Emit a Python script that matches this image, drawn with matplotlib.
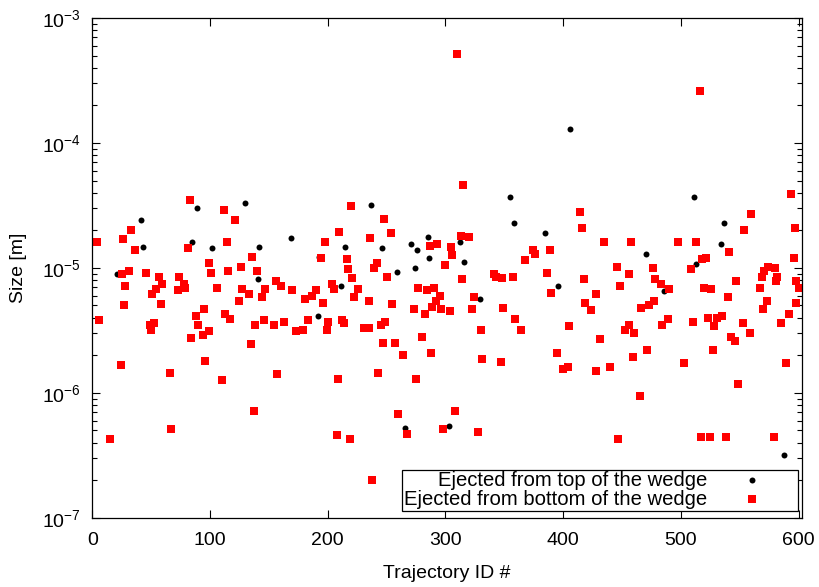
import matplotlib
matplotlib.use('Agg')
import matplotlib.pyplot as plt
from matplotlib.ticker import LogLocator, NullFormatter, MultipleLocator

plt.rcParams['font.family'] = ['Liberation Sans', 'DejaVu Sans']
plt.rcParams['mathtext.fontset'] = 'custom'
plt.rcParams['mathtext.rm'] = 'Liberation Sans'
plt.rcParams['axes.unicode_minus'] = False

# particles ejected from the top of the wedge
top_id = [41, 89, 43, 85, 102, 21, 130, 169, 142, 193, 141, 192, 237, 215, 246, 271,
          276, 285, 286, 259, 274, 211, 266, 355, 358, 385, 312, 316, 329, 396, 303,
          406, 470, 486, 511, 537, 534, 513, 588]
top_size = [2.4e-5, 3.0e-5, 1.48e-5, 1.6e-5, 1.45e-5, 8.9e-6, 3.3e-5, 1.74e-5, 1.48e-5,
            1.23e-5, 8.1e-6, 4.1e-6, 3.2e-5, 1.48e-5, 1.45e-5, 1.55e-5, 1.38e-5, 1.78e-5,
            1.2e-5, 9.3e-6, 1.0e-5, 7.2e-6, 5.2e-7, 3.7e-5, 2.3e-5, 1.9e-5, 1.6e-5,
            1.12e-5, 5.6e-6, 7.2e-6, 5.4e-7, 1.29e-4, 1.29e-5, 6.5e-6, 3.7e-5, 2.3e-5,
            1.55e-5, 1.07e-5, 3.2e-7]

# particles ejected from the bottom of the wedge
bottom_id = [83, 33, 26, 4, 36, 81, 99, 101, 31, 25, 46, 57, 74, 59, 78, 28, 54, 73, 79,
             51, 27, 58, 95, 6, 88, 90, 49, 52, 50, 84, 94, 99, 96, 24, 66, 67, 15,
             112, 121, 114, 198, 136, 194, 126, 140, 115, 156, 160, 106, 127, 147, 170,
             133, 144, 190, 187, 181, 196, 125, 113, 117, 138, 146, 154, 163, 173, 179,
             183, 200, 199, 135, 157, 110, 137,
             220, 248, 210, 254, 236, 287, 293, 216, 242, 239, 217, 221, 250, 300, 204,
             205, 226, 222, 235, 255, 277, 284, 290, 295, 292, 289, 296, 273, 283, 212,
             214, 231, 235, 245, 249, 280, 247, 257, 264, 288, 243, 275, 209, 260, 267,
             298, 208, 219, 238,
             310, 315, 313, 320, 305, 306, 314, 374, 376, 389, 368, 341, 343, 348, 357,
             386, 390, 324, 304, 323, 349, 359, 364, 330, 395, 400, 331, 347, 308, 328,
             414, 416, 435, 458, 498, 446, 456, 476, 478, 483, 490, 418, 448, 428, 419,
             424, 466, 473, 477, 405, 456, 453, 460, 484, 489, 431, 471, 459, 404, 428,
             440, 465, 447,
             516, 594, 560, 554, 597, 513, 541, 596, 518, 521, 509, 574, 571, 580, 569,
             582, 581, 547, 598, 600, 520, 526, 567, 540, 573, 570, 598, 592, 585, 510,
             523, 531, 535, 528, 553, 559, 543, 546, 527, 503, 589, 549, 517, 525, 538,
             579]
bottom_size = [3.5e-5, 2.0e-5, 1.7e-5, 1.6e-5, 1.4e-5, 1.45e-5, 1.1e-5, 9.1e-6, 9.5e-6,
               8.9e-6, 9.1e-6, 8.5e-6, 8.5e-6, 7.4e-6, 7.4e-6, 7.2e-6, 6.8e-6, 6.6e-6,
               6.9e-6, 6.2e-6, 5.0e-6, 5.1e-6, 4.7e-6, 3.8e-6, 4.1e-6, 3.5e-6, 3.5e-6,
               3.6e-6, 3.2e-6, 2.75e-6, 2.9e-6, 3.1e-6, 1.8e-6, 1.66e-6, 1.45e-6, 5.1e-7,
               4.3e-7,
               2.9e-5, 2.4e-5, 1.6e-5, 1.6e-5, 1.23e-5, 1.2e-5, 1.02e-5, 9.5e-6, 9.5e-6,
               7.9e-6, 7.1e-6, 6.9e-6, 6.8e-6, 6.8e-6, 6.6e-6, 6.2e-6, 5.9e-6, 6.6e-6,
               6.0e-6, 5.6e-6, 5.2e-6, 5.4e-6, 4.3e-6, 3.9e-6, 3.5e-6, 3.8e-6, 3.5e-6,
               3.7e-6, 3.1e-6, 3.2e-6, 3.8e-6, 3.7e-6, 3.2e-6, 2.45e-6, 1.41e-6, 1.26e-6,
               7.2e-7,
               3.1e-5, 2.45e-5, 1.95e-5, 1.9e-5, 1.74e-5, 1.5e-5, 1.55e-5, 1.17e-5, 1.1e-5,
               1.0e-5, 9.8e-6, 8.3e-6, 8.5e-6, 1.05e-5, 7.4e-6, 6.8e-6, 6.8e-6, 5.8e-6,
               5.4e-6, 5.1e-6, 6.9e-6, 6.6e-6, 6.9e-6, 6.0e-6, 5.4e-6, 4.9e-6, 4.7e-6,
               4.7e-6, 4.3e-6, 3.8e-6, 3.6e-6, 3.3e-6, 3.3e-6, 3.5e-6, 3.7e-6, 2.8e-6,
               2.5e-6, 2.5e-6, 2.0e-6, 2.1e-6, 1.45e-6, 1.3e-6, 1.3e-6, 6.8e-7, 4.7e-7,
               5.1e-7, 4.6e-7, 4.3e-7, 2.0e-7,
               5.2e-4, 4.6e-5, 1.8e-5, 1.78e-5, 1.48e-5, 1.26e-5, 8.1e-6, 1.4e-5, 1.3e-5,
               1.4e-5, 1.15e-5, 8.9e-6, 8.5e-6, 8.3e-6, 8.5e-6, 9.1e-6, 6.3e-6, 5.9e-6,
               4.5e-6, 4.7e-6, 4.8e-6, 3.9e-6, 3.2e-6, 3.2e-6, 2.1e-6, 1.55e-6, 1.86e-6,
               1.78e-6, 7.2e-7, 4.9e-7,
               2.8e-5, 2.1e-5, 1.6e-5, 1.6e-5, 1.6e-5, 1.02e-5, 8.9e-6, 1.0e-5, 8.1e-6,
               7.4e-6, 6.8e-6, 8.1e-6, 7.1e-6, 6.2e-6, 5.2e-6, 4.6e-6, 4.8e-6, 5.0e-6,
               5.4e-6, 3.4e-6, 3.5e-6, 3.2e-6, 3.0e-6, 3.5e-6, 3.9e-6, 2.7e-6, 2.2e-6,
               1.95e-6, 1.6e-6, 1.5e-6, 1.6e-6, 9.5e-7, 4.3e-7,
               2.6e-4, 3.9e-5, 2.7e-5, 2.0e-5, 2.1e-5, 1.6e-5, 1.35e-5, 1.2e-5, 1.17e-5,
               1.2e-5, 9.8e-6, 1.02e-5, 9.5e-6, 1.0e-5, 8.5e-6, 8.5e-6, 7.8e-6, 7.9e-6,
               7.9e-6, 6.9e-6, 6.9e-6, 6.8e-6, 6.9e-6, 5.8e-6, 5.4e-6, 4.7e-6, 5.2e-6,
               4.3e-6, 3.6e-6, 3.7e-6, 4.0e-6, 4.0e-6, 4.1e-6, 3.4e-6, 3.6e-6, 3.0e-6,
               2.8e-6, 2.6e-6, 2.2e-6, 1.74e-6, 1.74e-6, 1.17e-6, 4.4e-7, 4.4e-7, 4.4e-7,
               4.4e-7]

fig = plt.figure(figsize=(8.2, 5.87), dpi=100)
ax = fig.add_axes([0.1126, 0.118, 0.8655, 0.8513])

ax.plot(top_id, top_size, 'o', color='black', markersize=4.3, markeredgewidth=0,
        label='Ejected from top of the wedge')
ax.plot(bottom_id, bottom_size, 's', color='red', markersize=5.8, markeredgewidth=0,
        label='Ejected from bottom of the wedge')

ax.set_yscale('log')
ax.set_xlim(0, 603)
ax.set_ylim(1e-7, 1e-3)
ax.xaxis.set_major_locator(MultipleLocator(100))
ax.yaxis.set_major_locator(LogLocator(base=10, numticks=10))
ax.yaxis.set_minor_locator(LogLocator(base=10, subs=range(2, 10), numticks=10))
ax.yaxis.set_minor_formatter(NullFormatter())

ax.tick_params(which='both', direction='in', top=True, right=True, labelsize=14,
               width=0.8, color='black')
ax.tick_params(axis='x', which='major', length=5.5, pad=10)
ax.tick_params(axis='y', which='major', length=6, pad=8)
ax.tick_params(axis='y', which='minor', length=3.5)
for sp in ax.spines.values():
    sp.set_linewidth(0.9)

ax.set_xlabel('Trajectory ID #', fontsize=14, labelpad=12)
ax.set_ylabel('Size [m]', fontsize=14, labelpad=11)

leg = ax.legend(loc='lower right', bbox_to_anchor=(0.9944, 0.0134), borderaxespad=0,
                fontsize=14.6, markerfirst=False, fancybox=False, framealpha=1,
                edgecolor='black', borderpad=0.08, handletextpad=0.0, handlelength=4.4,
                labelspacing=0.0, handleheight=0.5)
leg.get_frame().set_linewidth(0.9)

plt.savefig('out.png', dpi=100)
